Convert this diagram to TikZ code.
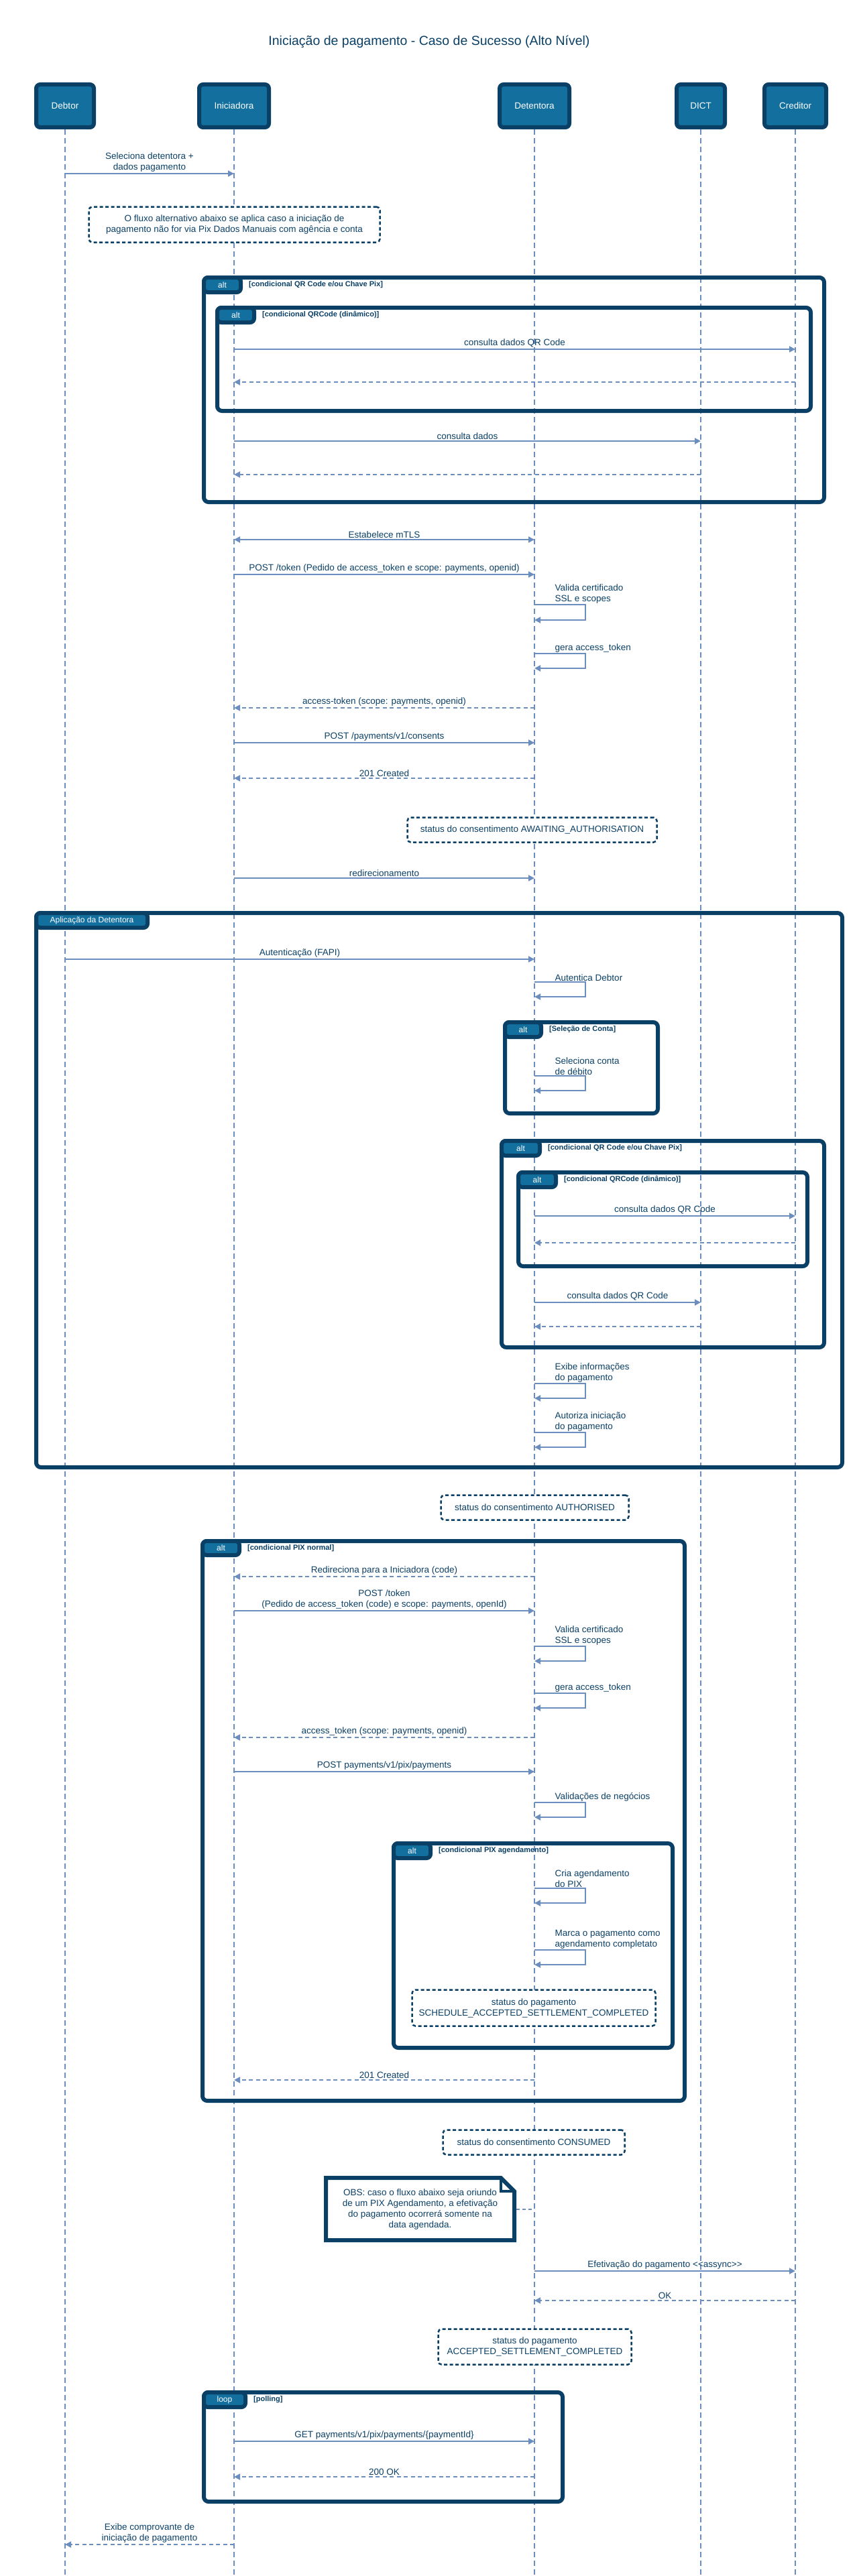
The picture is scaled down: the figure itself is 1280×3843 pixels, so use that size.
\documentclass[tikz,border=0pt]{standalone}
\usepackage{fontspec}
\setmainfont{Liberation Sans}
\usetikzlibrary{arrows.meta, positioning}

\definecolor{navy}{HTML}{0B4066}
\definecolor{boxblue}{HTML}{13709E}
\definecolor{wire}{HTML}{6C8EBF}

\tikzset{
    actor/.style={draw=navy, fill=boxblue, line width=6pt, rounded corners=6pt, text=white, minimum height=64pt, inner sep=0pt, font=\fontsize{13.5}{16}\selectfont},
    lifeline/.style={draw=wire, line width=2pt, dash pattern=on 8pt off 5pt},
    msg/.style={draw=wire, line width=2pt, -{Triangle[length=9pt, width=9pt]}},
    ret/.style={msg, dash pattern=on 6pt off 4.5pt},
    both/.style={draw=wire, line width=2pt, {Triangle[length=9pt, width=9pt]}-{Triangle[length=9pt, width=9pt]}},
    lbl/.style={text=navy, font=\fontsize{13.5}{16}\selectfont, align=center, inner sep=1.5pt},
    selflbl/.style={lbl, align=left, anchor=south west},
    status/.style={draw=navy, fill=white, line width=2.5pt, dash pattern=on 5pt off 3.5pt, rounded corners=5pt, text=navy, align=center, inner sep=0pt, font=\fontsize{13.5}{16}\selectfont},
    obsnote/.style={fill=white, text=navy, align=center, inner sep=0pt, outer sep=0pt, font=\fontsize{13.5}{16}\selectfont},
    frame/.style={draw=navy, line width=6pt, rounded corners=7pt},
    tab/.style={draw=navy, fill=boxblue, line width=6pt, rounded corners=6pt, text=white, anchor=north west, minimum height=22pt, inner sep=0pt, font=\fontsize{12}{14}\selectfont},
    guard/.style={text=navy, inner sep=0pt, font=\fontsize{11}{13}\selectfont\bfseries},
    title/.style={text=navy, font=\fontsize{19.5}{23}\selectfont},
}

\begin{document}
\begin{tikzpicture}[x=1pt, y=-1pt]

    \useasboundingbox (0,0) rectangle (1280,3843);
    \fill[white] (0,0) rectangle (1280,3843);

    % Title
    \node[title] at (640,62) (title) {Iniciação de pagamento - Caso de Sucesso (Alto Nível)};

    % Participants
    \node[actor, minimum width=86pt] at (97,158) (deb) {Debtor};
    \node[actor, minimum width=104pt] at (349,158) (ini) {Iniciadora};
    \node[actor, minimum width=104pt] at (797,158) (det) {Detentora};
    \node[actor, minimum width=72pt] at (1045,158) (dict) {DICT};
    \node[actor, minimum width=92pt] at (1186,158) (cred) {Creditor};

    % Lifelines
    \foreach \p in {deb, ini, det, dict, cred}
        \draw[lifeline] (\p.south) -- (\p |- 0,3843);

    % Selecao da detentora
    \draw[msg] (deb |- 0,259) -- node[lbl, above] (mSel) {Seleciona detentora +\\dados pagamento} (ini |- 0,259);
    \node[status, minimum width=434pt, minimum height=53pt] at (349.5,335) (nInfo) {O fluxo alternativo abaixo se aplica caso a iniciação de\\pagamento não for via Pix Dados Manuais com agência e conta};

    % alt QR Code / Chave Pix (Iniciadora)
    \draw[frame] (304,414) rectangle (1229,749);
    \node[tab, minimum width=55pt] at (301,411) (tQr) {alt};
    \node[guard, right=9pt of tQr] (gQr) {[condicional QR Code e/ou Chave Pix]};
    \draw[frame] (324,459) rectangle (1209,613);
    \node[tab, minimum width=55pt] at (321,456) (tDin) {alt};
    \node[guard, right=9pt of tDin] (gDin) {[condicional QRCode (dinâmico)]};
    \draw[msg] (ini |- 0,521) -- node[lbl, above] (mQr) {consulta dados QR Code} (cred |- 0,521);
    \draw[ret] (cred |- 0,570) -- (ini |- 0,570);
    \draw[msg] (ini |- 0,658) -- node[lbl, above] (mDados) {consulta dados} (dict |- 0,658);
    \draw[ret] (dict |- 0,708) -- (ini |- 0,708);

    % mTLS, token e consentimento
    \draw[both] (ini |- 0,805) -- node[lbl, above] (mTls) {Estabelece mTLS} (det |- 0,805);
    \draw[msg] (ini |- 0,857) -- node[lbl, above] (mTok) {POST /token (Pedido de access\_token e scope: payments, openid)} (det |- 0,857);
    \draw[msg] (det |- 0,902) -- ++(76,0) |- (det |- 0,925);
    \node[selflbl] at (826,902) (sVal) {Valida certificado\\SSL e scopes};
    \draw[msg] (det |- 0,975) -- ++(76,0) |- (det |- 0,997);
    \node[selflbl] at (826,975) (sGera) {gera access\_token};
    \draw[ret] (det |- 0,1056) -- node[lbl, above] (rTok) {access-token (scope: payments, openid)} (ini |- 0,1056);
    \draw[msg] (ini |- 0,1108) -- node[lbl, above] (mCons) {POST /payments/v1/consents} (det |- 0,1108);
    \draw[ret] (det |- 0,1161) -- node[lbl, above] (rCons) {201 Created} (ini |- 0,1161);
    \node[status, minimum width=372pt, minimum height=37pt] at (793.5,1238) (nAwait) {status do consentimento AWAITING\_AUTHORISATION};
    \draw[msg] (ini |- 0,1310) -- node[lbl, above] (mRed) {redirecionamento} (det |- 0,1310);

    % Aplicacao da Detentora
    \draw[frame] (54,1362) rectangle (1256,2189);
    \node[tab, minimum width=166pt] at (51,1359) (tApp) {Aplicação da Detentora};
    \draw[msg] (deb |- 0,1431) -- node[lbl, above] (mAuth) {Autenticação (FAPI)} (det |- 0,1431);
    \draw[msg] (det |- 0,1465) -- ++(76,0) |- (det |- 0,1487);
    \node[selflbl] at (826,1465) (sAutDeb) {Autentica Debtor};

    % alt Selecao de Conta
    \draw[frame] (753,1525) rectangle (981,1661);
    \node[tab, minimum width=54pt] at (750,1522) (tConta) {alt};
    \node[guard, right=9pt of tConta] (gConta) {[Seleção de Conta]};
    \draw[msg] (det |- 0,1605) -- ++(76,0) |- (det |- 0,1627);
    \node[selflbl] at (826,1605) (sConta) {Seleciona conta\\de débito};

    % alt QR Code / Chave Pix (Detentora)
    \draw[frame] (748,1702) rectangle (1229,2010);
    \node[tab, minimum width=57pt] at (745,1699) (tQr2) {alt};
    \node[guard, right=9pt of tQr2] (gQr2) {[condicional QR Code e/ou Chave Pix]};
    \draw[frame] (773,1749) rectangle (1204,1889);
    \node[tab, minimum width=56pt] at (770,1746) (tDin2) {alt};
    \node[guard, right=9pt of tDin2] (gDin2) {[condicional QRCode (dinâmico)]};
    \draw[msg] (det |- 0,1814) -- node[lbl, above] (mQr2) {consulta dados QR Code} (cred |- 0,1814);
    \draw[ret] (cred |- 0,1854) -- (det |- 0,1854);
    \draw[msg] (det |- 0,1943) -- node[lbl, above] (mQr3) {consulta dados QR Code} (dict |- 0,1943);
    \draw[ret] (dict |- 0,1979) -- (det |- 0,1979);

    \draw[msg] (det |- 0,2064) -- ++(76,0) |- (det |- 0,2086);
    \node[selflbl] at (826,2064) (sExibe) {Exibe informações\\do pagamento};
    \draw[msg] (det |- 0,2137) -- ++(76,0) |- (det |- 0,2159);
    \node[selflbl] at (826,2137) (sAutoriza) {Autoriza iniciação\\do pagamento};

    \node[status, minimum width=280pt, minimum height=37pt] at (797.5,2249) (nAuthd) {status do consentimento AUTHORISED};

    % alt PIX normal
    \draw[frame] (302,2299) rectangle (1021,3134);
    \node[tab, minimum width=55pt, minimum height=21pt] at (299,2296) (tPix) {alt};
    \node[guard, right=9pt of tPix] (gPix) {[condicional PIX normal]};
    \draw[ret] (det |- 0,2352) -- node[lbl, above] (rRedir) {Redireciona para a Iniciadora (code)} (ini |- 0,2352);
    \draw[msg] (ini |- 0,2403) -- node[lbl, above] (mTok2) {POST /token\\(Pedido de access\_token (code) e scope: payments, openId)} (det |- 0,2403);
    \draw[msg] (det |- 0,2456) -- ++(76,0) |- (det |- 0,2478);
    \node[selflbl] at (826,2456) (sVal2) {Valida certificado\\SSL e scopes};
    \draw[msg] (det |- 0,2526) -- ++(76,0) |- (det |- 0,2548);
    \node[selflbl] at (826,2526) (sGera2) {gera access\_token};
    \draw[ret] (det |- 0,2592) -- node[lbl, above] (rTok2) {access\_token (scope: payments, openid)} (ini |- 0,2592);
    \draw[msg] (ini |- 0,2643) -- node[lbl, above] (mPay) {POST payments/v1/pix/payments} (det |- 0,2643);
    \draw[msg] (det |- 0,2689) -- ++(76,0) |- (det |- 0,2711);
    \node[selflbl] at (826,2689) (sNeg) {Validações de negócios};

    % alt PIX agendamento
    \draw[frame] (587,2750) rectangle (1003,3055);
    \node[tab, minimum width=55pt] at (584,2747) (tAgd) {alt};
    \node[guard, right=9pt of tAgd] (gAgd) {[condicional PIX agendamento]};
    \draw[msg] (det |- 0,2817) -- ++(76,0) |- (det |- 0,2839);
    \node[selflbl] at (826,2817) (sCria) {Cria agendamento\\do PIX};
    \draw[msg] (det |- 0,2909) -- ++(76,0) |- (det |- 0,2931);
    \node[selflbl] at (826,2909) (sMarca) {Marca o pagamento como\\agendamento completato};
    \node[status, minimum width=363pt, minimum height=54pt] at (796,2995.5) (nSched) {status do pagamento\\SCHEDULE\_ACCEPTED\_SETTLEMENT\_COMPLETED};
    \draw[ret] (det |- 0,3103) -- node[lbl, above] (rCreated) {201 Created} (ini |- 0,3103);

    \node[status, minimum width=271pt, minimum height=37pt] at (796,3196) (nConsumed) {status do consentimento CONSUMED};

    % OBS agendamento
    \node[obsnote, minimum width=281pt, minimum height=93pt] at (626.5,3295.5) (obs) {OBS: caso o fluxo abaixo seja oriundo\\de um PIX Agendamento, a efetivação\\do pagamento ocorrerá somente na\\data agendada.};
    \draw[navy, line width=6pt] (obs.north west) -- ([xshift=-20pt]obs.north east) -- ([yshift=-20pt]obs.north east) -- (obs.south east) -- (obs.south west) -- cycle;
    \draw[navy, line width=4pt] ([xshift=-20pt]obs.north east) |- ([yshift=-20pt]obs.north east);
    \draw[lifeline, dash pattern=on 5pt off 4pt] ([xshift=3pt]obs.east) -- (det |- obs.east);

    % Efetivacao
    \draw[msg] (det |- 0,3388) -- node[lbl, above] (mEfet) {Efetivação do pagamento <{}<assync>{}>} (cred |- 0,3388);
    \draw[ret] (cred |- 0,3432) -- node[lbl, above] (rOk) {OK} (det |- 0,3432);
    \node[status, minimum width=288pt, minimum height=53pt] at (797.5,3501) (nSettle) {status do pagamento\\ACCEPTED\_SETTLEMENT\_COMPLETED};

    % loop polling
    \draw[frame] (304,3569) rectangle (839,3732);
    \node[tab, minimum width=62pt] at (301,3566) (tLoop) {loop};
    \node[guard, right=9pt of tLoop] (gLoop) {[polling]};
    \draw[msg] (ini |- 0,3642) -- node[lbl, above] (mGet) {GET payments/v1/pix/payments/\{paymentId\}} (det |- 0,3642);
    \draw[ret] (det |- 0,3695) -- node[lbl, above] (rGet) {200 OK} (ini |- 0,3695);

    \draw[ret] (ini |- 0,3796) -- node[lbl, above] (rComp) {Exibe comprovante de\\iniciação de pagamento} (deb |- 0,3796);

\end{tikzpicture}
\end{document}
